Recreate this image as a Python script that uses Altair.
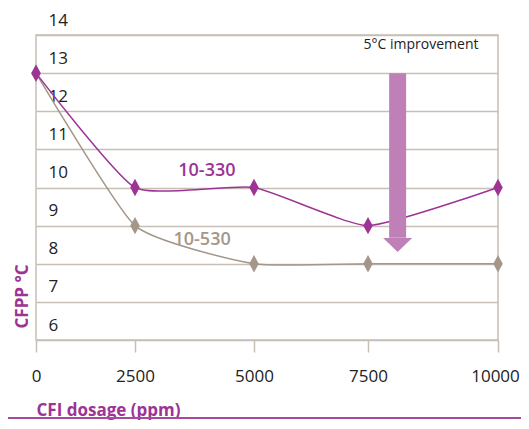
import altair as alt
import pandas as pd

# ---- data ----
dosage = [0, 2500, 5000, 7500, 10000]
cfpp_10_330 = [13, 10, 10, 9, 10]
cfpp_10_530 = [13, 9, 8, 8, 8]
series_names = ["10-330", "10-530"]
y_ticks = [6, 7, 8, 9, 10, 11, 12, 13, 14]

# annotations
label_x = [4010, 3910]
label_y = [10.43, 8.62]
arrow_x = [8070]
arrow_top = [13.0]
arrow_shaft_end = [8.68]
arrow_head_y = [8.49]
note_text = ["5°C improvement"]
note_x = [8520]
note_y = [13.74]

PURPLE = "#9c3496"
GRAY = "#a4978a"
GRID = "#c7beb4"
ARROW = "#bf80b8"
FONT = "Open Sans"

df = pd.DataFrame({
    "x": dosage * 2,
    "y": cfpp_10_330 + cfpp_10_530,
    "series": [series_names[0]] * 5 + [series_names[1]] * 5,
})
labels = pd.DataFrame({"series": series_names, "x": label_x, "y": label_y})
arrow = pd.DataFrame({"x": arrow_x, "y": arrow_top, "y2": arrow_shaft_end, "yh": arrow_head_y})
note = pd.DataFrame({"text": note_text, "x": note_x, "y": note_y})

W, H = 462, 305

xscale = alt.Scale(domain=dosage, range=[0, 99, 218, 332, 462])
yscale = alt.Scale(domain=[6, 14], nice=False, zero=False)

xaxis = alt.Axis(
    values=dosage, format="d", grid=False, domain=False, ticks=True, tickSize=12,
    tickColor=GRID, tickWidth=1.5, labelPadding=16, labelFontSize=17,
    labelFont=FONT, labelColor="#222222", labelFlush=False, labelOverlap=False,
    labelOffset=alt.ExprRef(expr="datum.value == 10000 ? -3 : 0"),
    title="CFI dosage (ppm)", titleFont=FONT, titleFontSize=17, titleFontWeight="bold",
    titleColor=PURPLE, titleAnchor="start", titleAlign="left", titleX=0, titleY=70,
    titleBaseline="middle",
)
yaxis = alt.Axis(
    values=y_ticks, tickCount=9, format="d", grid=True, gridColor=GRID, gridWidth=1.3,
    domain=False, ticks=False, labelAlign="left", labelPadding=-12, labelOffset=-15,
    labelFontSize=17, labelFont=FONT, labelColor="#222222", labelFlush=False,
    labelOverlap=False, labelBaseline="middle",
    title="CFPP °C", titleFont=FONT, titleFontSize=17, titleFontWeight="bold",
    titleColor=PURPLE, titleAngle=270, titleX=-14, titleY=261,
    titleAlign="center", titleBaseline="middle",
)


def X(field="x"):
    return alt.X(f"{field}:Q", scale=xscale, axis=xaxis)


def Y(field="y"):
    return alt.Y(f"{field}:Q", scale=yscale, axis=yaxis)


base = alt.Chart(df)
diamond = "M0,-1L0.55,0L0,1L-0.55,0Z"


def series_layers(name, color):
    d = base.transform_filter(alt.datum.series == name)
    line = d.mark_line(color=color, strokeWidth=1.5, interpolate="cardinal", tension=0.5).encode(x=X(), y=Y())
    pts = d.mark_point(shape=diamond, size=300, filled=True, color=color, opacity=1).encode(x=X(), y=Y())
    return line, pts


g_line, g_pts = series_layers("10-530", GRAY)
p_line, p_pts = series_layers("10-330", PURPLE)

text_layer = alt.Chart(labels).mark_text(
    font=FONT, fontSize=18, fontWeight=600, align="center", baseline="middle"
).encode(
    x=X(), y=Y(),
    text="series:N",
    color=alt.Color("series:N", scale=alt.Scale(domain=series_names, range=[PURPLE, GRAY]), legend=None),
)

shaft = alt.Chart(arrow).mark_rule(color=ARROW, strokeWidth=17, strokeCap="butt").encode(
    x=X(), y=Y(), y2="y2:Q"
)
head = alt.Chart(arrow).mark_point(
    shape="M-1,-0.48L1,-0.48L0,0.48Z", size=841, filled=True, color=ARROW, opacity=1
).encode(x=X(), y=Y("yh"))

note_layer = alt.Chart(note).mark_text(
    font=FONT, fontSize=14, color="#222222", align="center", baseline="middle"
).encode(x=X(), y=Y(), text="text:N")

bottom_rule = alt.Chart(note).mark_rule(color="#a64aa0", strokeWidth=2).encode(
    x=alt.value(-28), x2=alt.value(485), y=alt.value(H + 78)
)

chart = alt.layer(
    g_line, g_pts, p_line, p_pts, text_layer, shaft, head, note_layer, bottom_rule
).properties(
    width=W, height=H,
    autosize=alt.AutoSizeParams(type="none"),
    padding={"left": 28, "top": 27, "right": 23, "bottom": 80},
    background="white",
).configure_view(stroke=GRID, strokeWidth=1.5)

chart.save("out.html", embed_options={"renderer": "svg", "actions": False})
